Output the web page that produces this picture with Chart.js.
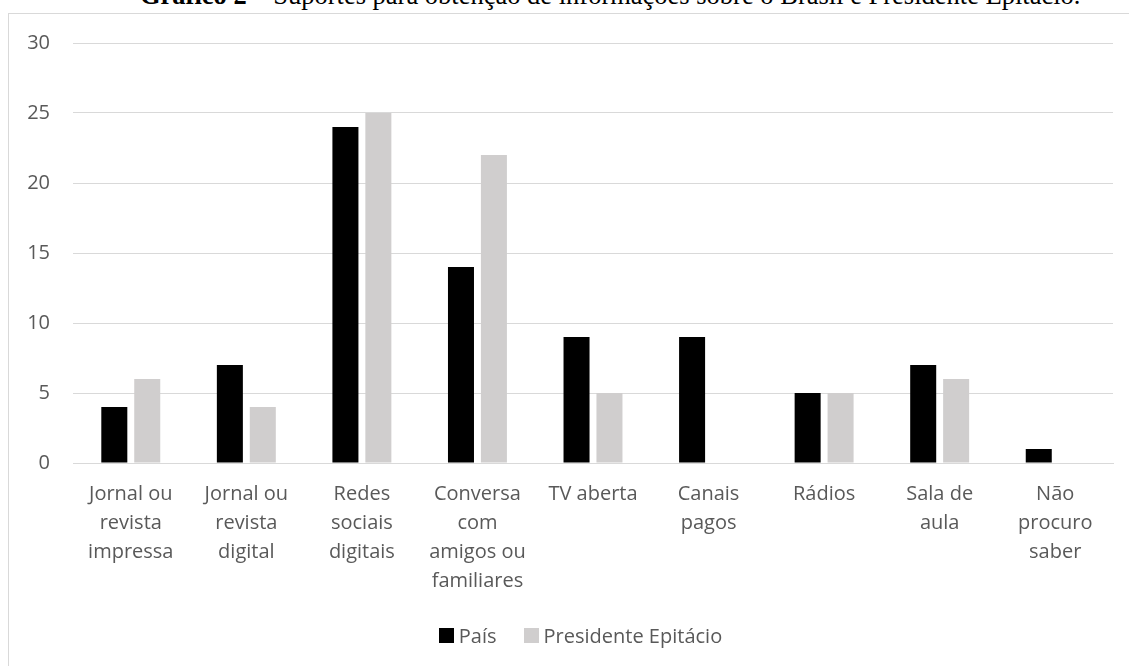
<!DOCTYPE html>
<html>
<head>
<meta charset="utf-8">
<script src="https://cdn.jsdelivr.net/npm/chart.js@4.4.0/dist/chart.umd.min.js"></script>
<style>
    body { margin: 0; background: #fff; width: 1129px; height: 666px; overflow: hidden; position: relative; }
    #title {
        position: absolute; left: 140px; top: -18px; white-space: nowrap; line-height: 1;
        font-family: "Liberation Serif", "Times New Roman", serif; font-size: 26.5px; color: #000;
    }
    #frame {
        position: absolute; left: 8px; top: 13px; width: 1145px; height: 700px;
        border: 1px solid #d9d9d9; box-sizing: border-box;
    }
    #wrap { position: absolute; left: 0; top: 0; width: 1129px; height: 666px; }
    #legend {
        position: absolute; left: 8px; width: 1145px; top: 622px; height: 26px;
        display: flex; justify-content: center; align-items: center; gap: 27px;
        font-family: "Open Sans", sans-serif; font-size: 20px; color: #595959;
    }
    #legend span.item { display: flex; align-items: center; gap: 5px; }
    #legend span.box { display: inline-block; width: 15px; height: 15px; }
</style>
</head>
<body>
<div id="title"><b>Gráfico 2</b> – Suportes para obtenção de informações sobre o Brasil e Presidente Epitácio.</div>
<div id="frame"></div>
<div id="wrap"><canvas id="chart"></canvas></div>
<div id="legend"></div>
<script>
// categories (multi-line tick labels)
const categories = [
    ['Jornal ou', 'revista', 'impressa'],
    ['Jornal ou', 'revista', 'digital'],
    ['Redes', 'sociais', 'digitais'],
    ['Conversa', 'com', 'amigos ou', 'familiares'],
    'TV aberta',
    ['Canais', 'pagos'],
    'Rádios',
    ['Sala de', 'aula'],
    ['Não', 'procuro', 'saber']
];
const paisValues = [4, 7, 24, 14, 9, 9, 5, 7, 1];
const presidenteValues = [6, 4, 25, 22, 5, 0, 5, 6, 0];
const yTicks = [0, 5, 10, 15, 20, 25, 30];

document.addEventListener('DOMContentLoaded', function() {
    const ctx = document.getElementById('chart').getContext('2d');
    const chart = new Chart(ctx, {
        type: 'bar',
        data: {
            labels: categories,
            datasets: [{
                label: 'País',
                data: paisValues,
                backgroundColor: '#000000',
                barPercentage: 0.79,
                categoryPercentage: 0.57
            }, {
                label: 'Presidente Epitácio',
                data: presidenteValues,
                backgroundColor: '#d0cece',
                barPercentage: 0.79,
                categoryPercentage: 0.57
            }]
        },
        options: {
            responsive: true,
            maintainAspectRatio: false,
            animation: false,
            layout: { padding: { left: 0, right: 16, top: 43, bottom: 63 } },
            plugins: {
                tooltip: { enabled: false },
                legend: { display: false }
            },
            scales: {
                x: {
                    grid: { display: false, drawTicks: false },
                    border: { color: '#d9d9d9', width: 1 },
                    ticks: {
                        color: '#595959',
                        padding: 17,
                        maxRotation: 0,
                        autoSkip: false,
                        font: { family: 'Open Sans', size: 20, lineHeight: 1.45 }
                    },
                    afterFit: function(scale) { scale.height = 140; }
                },
                y: {
                    min: yTicks[0],
                    max: yTicks[yTicks.length - 1],
                    afterBuildTicks: function(scale) {
                        scale.ticks = yTicks.map(v => ({ value: v }));
                    },
                    grid: { color: '#d9d9d9', drawTicks: false },
                    border: { display: false },
                    ticks: {
                        color: '#595959',
                        padding: 23,
                        font: { family: 'Open Sans', size: 20 }
                    },
                    afterFit: function(scale) { scale.width = 73; }
                }
            }
        }
    });

    // legend built from the chart's datasets
    document.getElementById('legend').innerHTML = chart.data.datasets.map(ds => `
        <span class="item"><span class="box" style="background:${ds.backgroundColor}"></span>${ds.label}</span>
    `).join('');
});
</script>
</body>
</html>
